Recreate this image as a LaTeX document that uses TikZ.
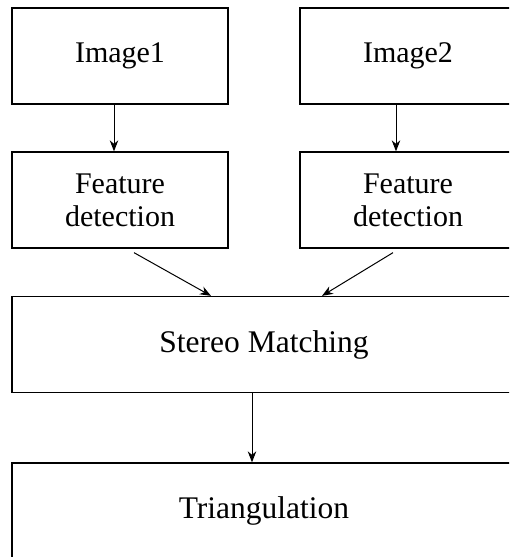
\documentclass[tikz,border=0pt]{standalone}
\usepackage{fontspec}
\setmainfont{Liberation Serif}
\usetikzlibrary{arrows.meta,calc}

\tikzset{
	block/.style={draw,line width=1.3pt,minimum width=216pt,minimum height=96pt,inner sep=0pt,align=center,font=\fontsize{30}{33}\selectfont},
	wideblock/.style={block,minimum width=504pt,font=\fontsize{31.5}{35}\selectfont},
	arr/.style={-{Stealth[length=11pt,width=8.5pt,inset=3.5pt]},line width=1pt}
}

\begin{document}
\begin{tikzpicture}[x=1pt,y=1pt]
		\useasboundingbox (0,0) rectangle (509,-557);
		\clip (0,0) rectangle (509,-557);
		% inputs
		\node[block] (img1) at (120,-56) {Image1};
		\node[block] (img2) at (408,-56) {Image2};
		\node[block] (feat1) at (120,-200) {Feature\\detection};
		\node[block] (feat2) at (408,-200) {Feature\\detection};
		% matching and triangulation
		\node[wideblock] (match) at (264,-344.5) {Stereo Matching};
		\node[wideblock] (tri) at (264,-511) {Triangulation};
		\draw[arr] ([xshift=-6pt]img1.south) -- ([xshift=-6pt]feat1.north);
		\draw[arr] ([xshift=-12pt]img2.south) -- ([xshift=-12pt]feat2.north);
		\draw[arr] ([xshift=14pt,yshift=-4pt]feat1.south) -- ([xshift=-53pt]match.north);
		\draw[arr] ([xshift=-15pt,yshift=-4pt]feat2.south) -- ([xshift=58pt]match.north);
		\draw[arr] ([xshift=-12pt]match.south) -- ([xshift=-12pt]tri.north);
	\end{tikzpicture}
\end{document}
